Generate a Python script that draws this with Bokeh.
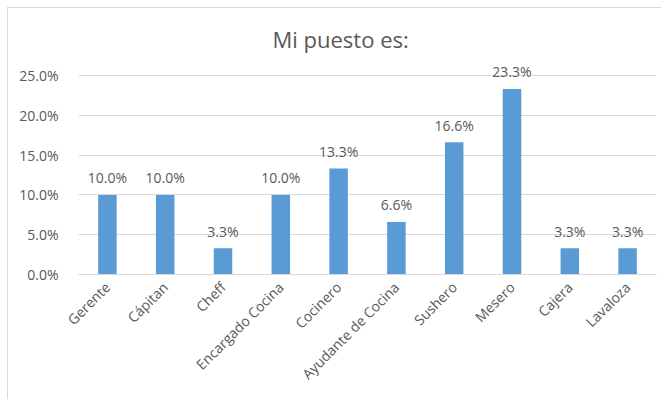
import math
from bokeh.plotting import figure
from bokeh.models import ColumnDataSource, FixedTicker, PrintfTickFormatter, Range1d
from bokeh.core.properties import value
from bokeh.embed import file_html
from bokeh.resources import INLINE

categories = ["Gerente", "Cápitan", "Cheff", "Encargado Cocina", "Cocinero",
              "Ayudante de Cocina", "Sushero", "Mesero", "Cajera", "Lavaloza"]
percent = [10.0, 10.0, 3.3, 10.0, 13.3, 6.6, 16.6, 23.3, 3.3, 3.3]
y_ticks = [0, 5, 10, 15, 20, 25]
title_text = "Mi puesto es:"

FONT = "Open Sans"
TXT = "#595959"
GRID = "#D9D9D9"
BAR = "#5B9BD5"

src = ColumnDataSource(dict(cat=categories, val=percent,
                            lab=[f"{v:.1f}%" for v in percent]))

p = figure(x_range=categories, y_range=Range1d(0, 26.5), width=654, height=392,
           output_backend="svg", toolbar_location=None,
           min_border_left=70, min_border_right=6, min_border_top=55,
           min_border_bottom=126, background_fill_color="white",
           border_fill_color="white", outline_line_color=None)

p.title.text = title_text
p.title.text_font = FONT
p.title.text_font_size = "22px"
p.title.text_font_style = "normal"
p.title.text_color = TXT
p.title.align = "left"
p.title.offset = 194
p.title.standoff = 20

p.vbar(x="cat", top="val", width=0.32, source=src, color=BAR, line_color=None)
p.text(x="cat", y="val", text="lab", source=src, text_align="center",
       text_baseline="alphabetic", y_offset=-17, text_font=value(FONT),
       text_font_size="14px", text_color=TXT)

p.yaxis.ticker = FixedTicker(ticks=y_ticks)
p.yaxis.formatter = PrintfTickFormatter(format="%.1f%%")
p.yaxis.axis_line_color = None
p.yaxis.major_tick_line_color = None
p.yaxis.minor_tick_line_color = None
p.yaxis.major_label_standoff = 14
p.yaxis.major_label_text_font = FONT
p.yaxis.major_label_text_font_size = "14px"
p.yaxis.major_label_text_color = TXT

p.xaxis.axis_line_color = GRID
p.xaxis.major_tick_line_color = None
p.xaxis.minor_tick_line_color = None
p.xaxis.major_label_orientation = math.pi / 4
p.xaxis.major_label_standoff = 4
p.xaxis.major_label_text_font = FONT
p.xaxis.major_label_text_font_size = "14px"
p.xaxis.major_label_text_color = TXT

p.xgrid.grid_line_color = None
p.ygrid.grid_line_color = GRID
p.ygrid.ticker = FixedTicker(ticks=y_ticks)
p.x_range.range_padding = 0

p.styles = {"margin-left": "7px", "margin-top": "7px",
            "border-left": "1px solid #D9D9D9", "border-top": "1px solid #D9D9D9"}

open("out.html", "w").write(file_html(p, INLINE))
